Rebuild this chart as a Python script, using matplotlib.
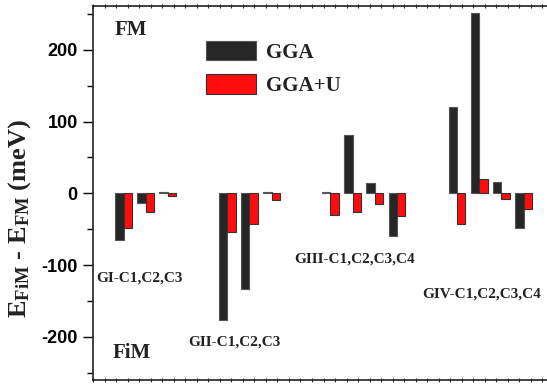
import matplotlib
matplotlib.use("Agg")
import matplotlib.pyplot as plt
from matplotlib.patches import Patch
from matplotlib.ticker import MultipleLocator

plt.rcParams['mathtext.fontset'] = 'custom'
plt.rcParams['mathtext.bf'] = 'Liberation Serif:bold'
plt.rcParams['mathtext.rm'] = 'Liberation Serif'
plt.rcParams['axes.unicode_minus'] = False

groups = ["GI-C1,C2,C3", "GII-C1,C2,C3", "GIII-C1,C2,C3,C4", "GIV-C1,C2,C3,C4"]
gga = [[-65, -14, 2], [-176, -133, 2], [2, 81, 15, -59], [120, 251, 16, -48]]
ggau = [[-48, -26, -3], [-54, -42, -9], [-30, -26, -15, -31], [-42, 20, -8, -22]]
series_labels = ["GGA", "GGA+U"]

group_start = [2.65, 11.65, 20.6, 31.6]
step = 1.92
bw = 0.72

fig = plt.figure(figsize=(5.47, 3.84), dpi=100)
ax = fig.add_axes([93/547, 4/384, 461/547, 374/384])

serif = 'Liberation Serif'
for gi, (g, u) in enumerate(zip(gga, ggau)):
    centers = [group_start[gi] + k*step for k in range(len(g))]
    ax.bar([c - bw/2 for c in centers], g, width=bw, color='#262626',
           edgecolor='#555555', linewidth=0.8, zorder=2)
    ax.bar([c + bw/2 for c in centers], u, width=bw, color='#ff0d0d',
           edgecolor='#333333', linewidth=0.8, zorder=2)

ax.set_xlim(0, 40)
ax.set_ylim(-260, 261)
ax.yaxis.set_major_locator(MultipleLocator(100))
ax.yaxis.set_minor_locator(MultipleLocator(50))
ax.xaxis.set_major_locator(MultipleLocator(1))
ax.tick_params(axis='x', which='both', bottom=True, top=True, direction='inout',
               length=3, width=0.8, labelbottom=False, color='#333333')
ax.tick_params(axis='y', which='major', direction='out', length=7, width=1.0, pad=4,
               labelsize=13)
ax.tick_params(axis='y', which='minor', direction='out', length=4.5, width=1.0)
for lab in ax.get_yticklabels():
    lab.set_fontfamily('Liberation Sans')
    lab.set_fontweight('bold')
for sp in ax.spines.values():
    sp.set_linewidth(1.2)
    sp.set_color('#222222')

ax.set_ylabel(r'$\mathbf{E_{FiM}}$ - $\mathbf{E_{FM}}$ (meV)', fontsize=19,
              fontfamily=serif, fontweight='bold', color='#222222')
ax.yaxis.set_label_coords(-60/461, (380 - 218)/374)

txt = dict(fontfamily=serif, fontweight='bold', color='#222222', va='center', ha='left')
ax.text(1.9, 228, "FM", fontsize=15, **txt)
ax.text(1.73, -222, "FiM", fontsize=15, **txt)
label_pos = [(0.26, -118), (8.24, -207), (17.5, -92), (28.6, -140)]
for name, (x, y) in zip(groups, label_pos):
    ax.text(x, y, name, fontsize=11, **txt)

handles = [Patch(facecolor='#262626', edgecolor='#555555', linewidth=0.8),
           Patch(facecolor='#ff0d0d', edgecolor='#333333', linewidth=0.8)]
leg = ax.legend(handles, series_labels, loc='upper left',
                bbox_to_anchor=(206/547, 1 - 41/384), bbox_transform=fig.transFigure,
                frameon=False, borderpad=0, borderaxespad=0,
                handlelength=2.4, handleheight=1.06, handletextpad=0.5,
                labelspacing=0.55,
                prop={'family': serif, 'weight': 'bold', 'size': 15})
for t in leg.get_texts():
    t.set_color('#222222')

fig.savefig("out.png", dpi=100)
